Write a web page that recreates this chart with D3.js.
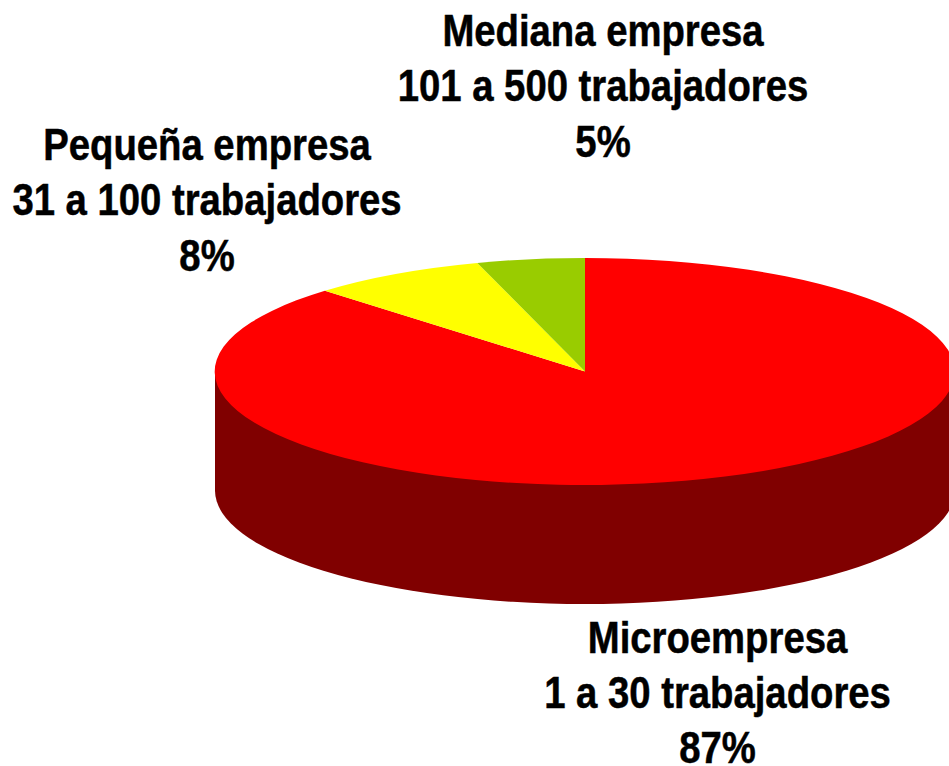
<!DOCTYPE html>
<html><head><meta charset="utf-8">
<script src="https://cdn.jsdelivr.net/npm/d3@7/dist/d3.min.js"></script>
<style>html,body{margin:0;padding:0;background:#fff;overflow:hidden}svg{display:block}</style>
</head><body><svg id="c" width="949" height="766"></svg>
<script>
const categories = ["Microempresa","Pequeña empresa","Mediana empresa"];
const subLabels = ["1 a 30 trabajadores","31 a 100 trabajadores","101 a 500 trabajadores"];
const percentLabels = ["87%","8%","5%"];
const values = [87.6,7.7,4.7];
const colors = ["#ff0000","#ffff00","#99cc00"];
const wallColor = "#800000";

const svg = d3.select("#c");
const cx=585, cy=371.5, rx=370, ry=113.5, depth=119;
const pie = d3.pie().sort(null).value(d=>d);
const arcs = pie(values);
const unit = d3.arc().innerRadius(0).outerRadius(1);

// extruded wall: rect overlaps the lower half-ellipse so no seam shows
const wall = svg.append("g");
wall.append("path").attr("transform",`translate(${cx},${cy+depth}) scale(${rx},${ry})`)
  .attr("d",unit({startAngle:Math.PI/2,endAngle:3*Math.PI/2})).attr("fill",wallColor);
wall.append("rect").attr("x",cx-rx).attr("y",cy).attr("width",2*rx).attr("height",depth+1).attr("fill",wallColor);

// top face
svg.append("g").attr("transform",`translate(${cx},${cy}) scale(${rx},${ry})`)
  .selectAll("path").data(arcs).join("path")
  .attr("d",unit).attr("fill",(d,i)=>colors[i]);

// labels: [center x, first baseline]
const labelPos = [[717.5,652.5],[207,160],[603,46]];
const lineStep = 55.3, fontSize = 44, squeeze = 0.87;
const g = svg.append("g").attr("font-family","'Liberation Sans',Arial,sans-serif")
  .attr("font-weight","700").attr("font-size",fontSize).attr("fill","#000")
  .attr("stroke","#000").attr("stroke-width",0.5).attr("text-anchor","middle");
categories.forEach((c,i)=>{
  const lines=[c,subLabels[i],percentLabels[i]];
  const t=g.append("g").attr("transform",`translate(${labelPos[i][0]},${labelPos[i][1]}) scale(${squeeze},1)`);
  lines.forEach((l,j)=>t.append("text").attr("x",0).attr("y",j*lineStep).text(l));
});
</script></body></html>
